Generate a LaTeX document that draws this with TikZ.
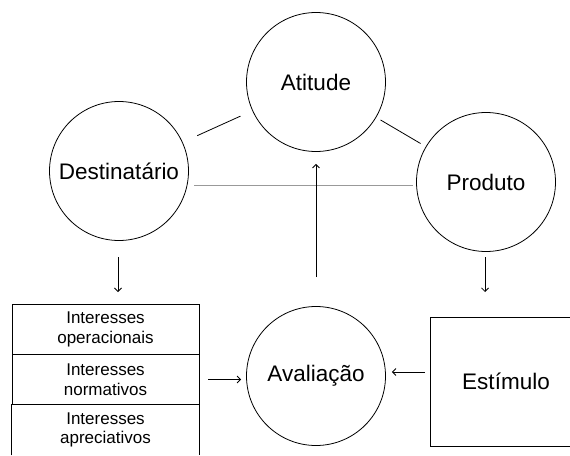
\documentclass[tikz,border=0pt]{standalone}
\usepackage{fontspec}
\setmainfont{Liberation Sans}
\usetikzlibrary{arrows.meta}
\tikzset{
  bigc/.style={draw, circle, line width=0.8pt, minimum size=139pt, inner sep=0pt,
    font=\fontsize{22.5}{27}\selectfont},
  row/.style={draw, line width=0.9pt, minimum width=187pt, minimum height=50pt, inner sep=0pt,
    align=center, font=\fontsize{17}{19.5}\selectfont},
  sbox/.style={draw, line width=0.9pt, minimum width=152pt, minimum height=129pt, inner sep=0pt,
    font=\fontsize{22.5}{27}\selectfont},
  link/.style={line width=0.8pt},
  arr/.style={line width=0.8pt, -{Straight Barb[length=3.5pt,width=7pt]}},
  grayline/.style={line width=0.8pt, draw=black!40}
}
\begin{document}
\begin{tikzpicture}[x=1pt,y=-1pt]
\useasboundingbox (0,0) rectangle (570,455);
\clip (0,0) rectangle (570,455);
\fill[white] (0,0) rectangle (570,455);
\node[bigc] (atit) at (316,82) {Atitude};
\node[bigc] (dest) at (119,171) {Destinatário};
\node[bigc] (prod) at (486,182) {Produto};
\node[bigc] (aval) at (316,376) {Avaliação};
\node[row] (r1) at (105.5,329.5) {Interesses\\operacionais};
\node[row] (r2) at (105.5,379.5) {Interesses\\normativos};
\node[row, draw=none] (r3) at (105.5,430) {Interesses\\apreciativos};
\draw[line width=0.9pt] (r3.south west) -- (r3.north west) -- (r3.north east) -- (r3.south east);
\node[sbox] (estim) at (506,381.5) {Estímulo};
\coordinate (g1) at (194,185);
\coordinate (g2) at (413,185);
\coordinate (d1) at (118,257);
\coordinate (d2) at (118,292);
\coordinate (p1) at (485,257);
\coordinate (p2) at (485,292);
\draw[link, shorten <=16pt, shorten >=13pt] (dest) -- (atit);
\draw[link, shorten <=5pt, shorten >=6pt] (atit) -- (prod);
\draw[grayline] (g1) -- (g2);
\draw[arr, shorten <=29pt, shorten >=12pt] (aval) -- (atit);
\draw[arr] (d1) -- (d2);
\draw[arr] (p1) -- (p2);
\draw[arr, shorten <=9pt, shorten >=5pt] (r2.east) -- (aval.west |- r2.east);
\draw[arr, shorten <=5pt, shorten >=6pt] (estim.west |- 0,372) -- (aval.east |- 0,372);
\end{tikzpicture}
\end{document}
